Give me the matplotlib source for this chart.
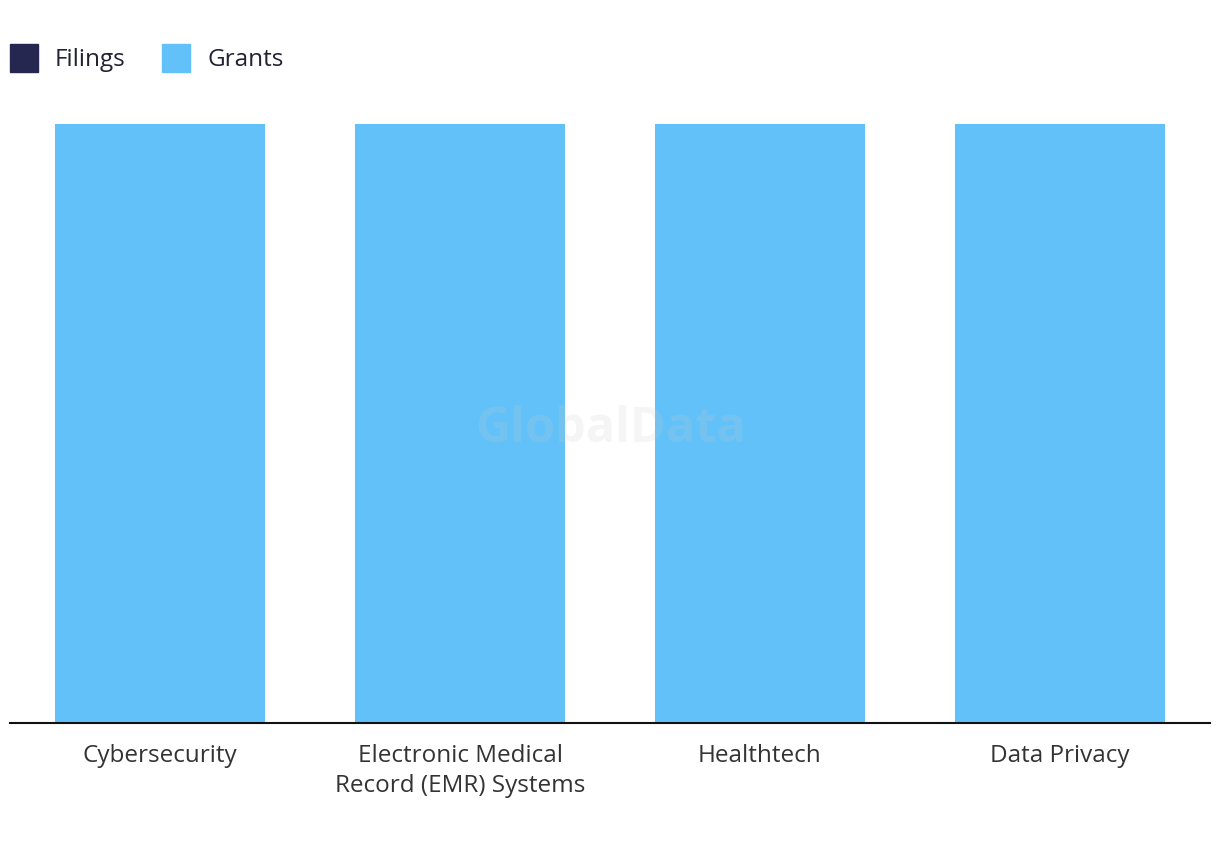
import numpy as np
import matplotlib.pyplot as plt
from matplotlib.patches import Patch

# Share of filings vs grants per theme (%)
categories = ['Cybersecurity', 'Electronic Medical\nRecord (EMR) Systems', 'Healthtech', 'Data Privacy']
filings = [0, 0, 0, 0]
grants = [100, 100, 100, 100]

filings_color = '#262750'
grants_color = '#62C1F8'

plt.rcParams['font.family'] = ['Open Sans', 'DejaVu Sans']

fig = plt.figure(figsize=(12.2, 8.5), dpi=100)
ax = fig.add_axes([10 / 1220, 127 / 850, 1200 / 1220, 599 / 850])

x = np.arange(len(categories))
ax.bar(x, filings, width=0.7, color=filings_color)
ax.bar(x, grants, width=0.7, bottom=filings, color=grants_color)

ax.set_xlim(-0.5, len(categories) - 0.5)
ax.set_ylim(0, 100)
ax.set_xticks(x)
ax.set_xticklabels(categories, fontsize=17.5, color='#333333', linespacing=1.35)
ax.tick_params(axis='x', length=0, pad=15)
ax.set_yticks([])
for side in ['top', 'right', 'left']:
    ax.spines[side].set_visible(False)
ax.spines['bottom'].set_color('#111111')
ax.spines['bottom'].set_linewidth(1.5)

# watermark
fig.text(0.5, 0.495, 'GlobalData', ha='center', va='center', fontsize=35,
         fontweight='bold', color='#c8c8c8', alpha=0.18)

handles = [Patch(color=filings_color, label='Filings'),
           Patch(color=grants_color, label='Grants')]
fig.legend(handles=handles, loc='upper left', bbox_to_anchor=(10 / 1220, 806 / 850), ncol=2,
           frameon=False, fontsize=17.5, handlelength=1.15, handleheight=1.4,
           handletextpad=0.7, columnspacing=1.5, borderpad=0, borderaxespad=0,
           labelcolor='#222233')

fig.savefig('out.png', dpi=100)
